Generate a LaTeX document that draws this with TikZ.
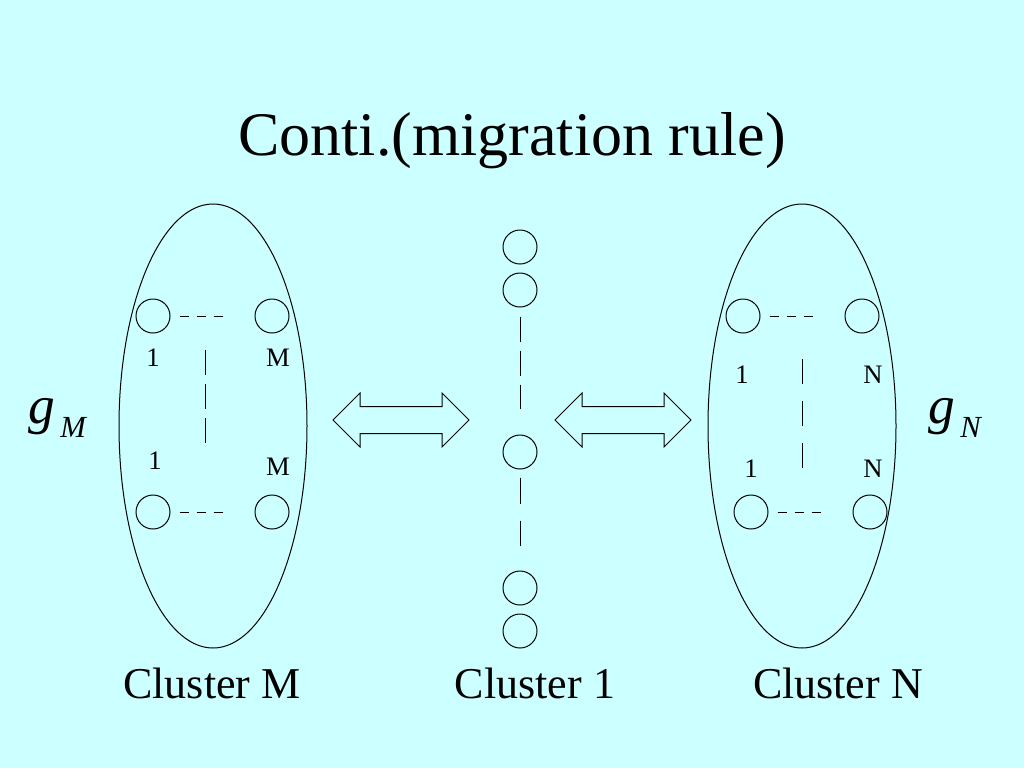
\documentclass[tikz,border=0pt]{standalone}
\usepackage{fontspec}
\setmainfont{Liberation Serif}
\usetikzlibrary{shapes.geometric}
\definecolor{slidebg}{RGB}{204,255,255}
\newcommand{\gsub}[1]{{\fontsize{40}{40}\selectfont\itshape g}\hspace{4pt}\raisebox{-10.5pt}{\fontsize{23}{23}\selectfont\itshape #1}}
\begin{document}
\begin{tikzpicture}
[x=0.75pt,y=-0.75pt,
 proc/.style={draw,circle,line width=0.75pt,minimum size=25.5pt,inner sep=0pt},
 cluster/.style={draw,ellipse,line width=0.75pt,minimum width=141pt,minimum height=333pt,inner sep=0pt},
 idx/.style={font=\fontsize{20}{20}\selectfont,inner sep=0pt},
 caption/.style={font=\fontsize{33}{33}\selectfont,anchor=base,inner sep=0pt},
 dashline/.style={line width=0.75pt}]
\fill[slidebg] (0,0) rectangle (1024,768);
\useasboundingbox (0,0) rectangle (1024,768);

\node[anchor=base,inner sep=0pt,font=\fontsize{46.5}{46.5}\selectfont] (title) at (512,155) {Conti.(migration rule)};

%% the clusters and their processors
\node[cluster] (clM) at (213,426) {};
\node[cluster] (clN) at (802,426) {};
\foreach \name/\x/\y in {m1/153/316, m2/272/316, m3/153/512, m4/272/512,
  n1/743/316, n2/862/316, n3/751/512, n4/870/512,
  c1/520/247, c2/520/290, c3/520/452, c4/520/588, c5/520/631}
{
  \node[proc] (\name) at (\x,\y) {};
}
\foreach \name/\x/\y/\t in {lm1/153/358/1, lmM/278/358/M, lm2/155/461/1, lmN/278/467/M,
  ln1/742/375/1, lnN/873/375/N, ln2/751/469/1, lnM/873/469/N}
{
  \node[idx] (\name) at (\x,\y) {\t};
}

%% the dots between processors
\foreach \a in {m1,m3,n1,n3}
{
  \draw[dashline,dash pattern=on 6.75pt off 6pt] ([xshift=6.75pt]\a.east) -- ++(43,0);
}
\draw[dashline,dash pattern=on 18.75pt off 6.75pt] (205,350) -- (205,443);
\draw[dashline,dash pattern=on 18.75pt off 12.75pt] (802,359) -- (802,468);
\draw[dashline,dash pattern=on 18.75pt off 6.75pt] ([yshift=-6.75pt]c2.south) -- ([yshift=19.5pt]c3.north);
\draw[dashline,dash pattern=on 19.5pt off 12.75pt] ([yshift=-6pt]c3.south) -- ([yshift=18.75pt]c4.north);

%% migration arrows
\foreach \x in {333,555}
{
  \draw[line width=0.75pt,line join=miter] (\x,420) -- ++(27,-27) -- ++(0,13.5) -- ++(82,0) -- ++(0,-13.5)
    -- ++(27,27) -- ++(-27,27) -- ++(0,-13.5) -- ++(-82,0) -- ++(0,13.5) -- cycle;
}

\node[anchor=base west,inner sep=0pt] (gM) at (28,423) {\gsub{M}};
\node[anchor=base west,inner sep=0pt] (gN) at (928,423) {\gsub{N}};
\node[caption] (capM) at (212,698) {Cluster M};
\node[caption] (cap1) at (535,698) {Cluster 1};
\node[caption] (capN) at (838,698) {Cluster N};
\end{tikzpicture}
\end{document}
